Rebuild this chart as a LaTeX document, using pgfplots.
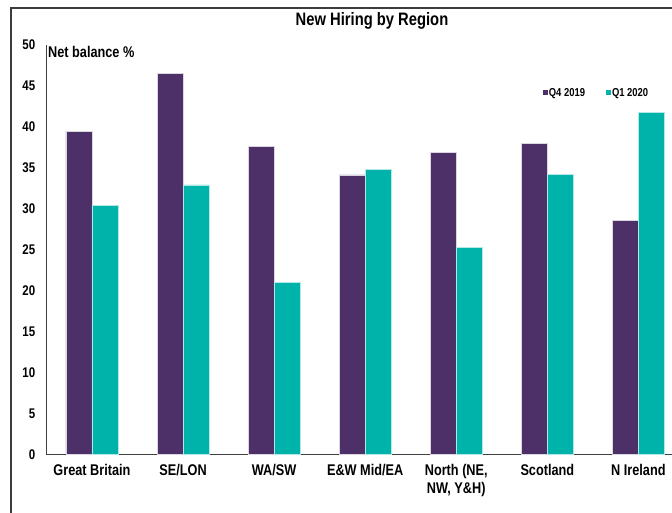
\documentclass[border=0pt]{standalone}
\usepackage{fontspec}
\setmainfont{Liberation Sans}[FakeStretch=0.82]
\usepackage{pgfplots}
\pgfplotsset{compat=1.18}
\definecolor{qpurple}{HTML}{4E3069}
\definecolor{qteal}{HTML}{00B3AA}
\definecolor{framegray}{HTML}{3C3C3C}

\pgfplotstableread{
idx q4 q1
0 39.4 30.4
1 46.5 32.9
2 37.6 21.0
3 34.1 34.8
4 36.9 25.3
5 38.0 34.2
6 28.6 41.7
}\hiring

\begin{document}
\begin{tikzpicture}[x=1pt,y=1pt]
\useasboundingbox (0,0) rectangle (672,512);
\clip (0,0) rectangle (672,512);
\draw[framegray, line width=2pt] (11,504) rectangle (740,-40);
\node[font=\fontsize{18}{21}\bfseries\selectfont] at (372,491) {New Hiring by Region};
\begin{axis}[
  at={(51,70)}, anchor=south west,
  scale only axis, width=637.5pt, height=410pt,
  ybar=0pt, bar width=26pt,
  xmin=-0.5, xmax=6.5, ymin=0, ymax=50,
  axis x line=bottom, axis y line=left,
  axis line style={-, draw=black!75, line width=0.8pt},
  major tick length=0pt,
  xtick={0,...,6},
  xticklabels={Great Britain, SE/LON, WA/SW, E\&W Mid/EA, {North (NE,\\NW, Y\&H)}, Scotland, N Ireland},
  ytick={0,5,...,50},
  /pgf/number format/assume math mode=true,
  xticklabel style={font=\fontsize{15.5}{18}\bfseries\selectfont, align=center, anchor=north, inner sep=0pt, yshift=-9pt},
  yticklabel style={font=\fontsize{14}{16}\bfseries\selectfont, anchor=east, inner sep=0pt, xshift=-11pt},
  legend style={draw=none, fill=none, at={(0.7784,0.8822)}, anchor=west, legend columns=2,
    font=\fontsize{11.5}{13}\bfseries\selectfont, inner sep=0pt,
    nodes={inner sep=1pt},
    /tikz/every even column/.append style={column sep=20pt}},
  every axis plot post/.append style={legend image code/.code={\fill[#1,draw=none] (0pt,-2.5pt) rectangle (5pt,2.5pt);}},
]
\addplot[fill=qpurple, draw=white!80!qpurple, line width=0.5pt] table[x=idx, y=q4] {\hiring};
\addplot[fill=qteal, draw=white!70!qteal, line width=0.5pt] table[x=idx, y=q1] {\hiring};
\legend{Q4 2019, Q1 2020}
\end{axis}
\node[anchor=west, inner sep=0pt, font=\fontsize{15.5}{18}\bfseries\selectfont] at (48,460) {Net balance \%};
\end{tikzpicture}
\end{document}
